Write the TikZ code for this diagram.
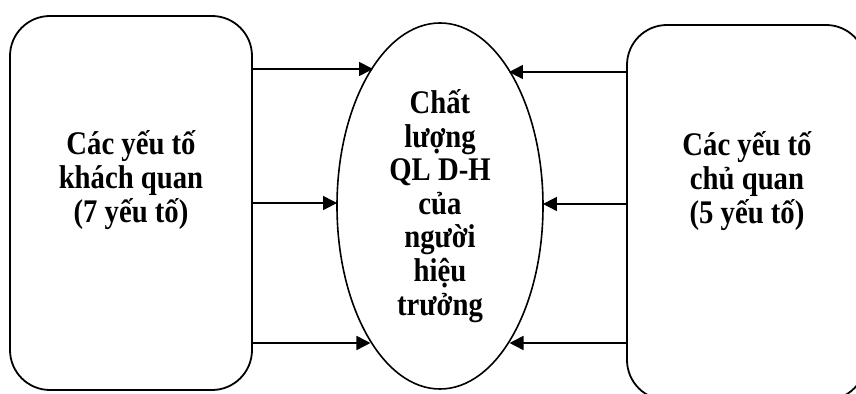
\documentclass[tikz,border=0pt]{standalone}
\usepackage{fontspec}
\setmainfont{Liberation Serif}
\newfontfamily\labelfont[FakeStretch=0.87]{Liberation Serif}
\usetikzlibrary{shapes.geometric,arrows.meta,intersections}
\begin{document}
\begin{tikzpicture}[x=0.5pt,y=-0.5pt,
  factorbox/.style={draw, line width=0.9pt, rounded corners=20pt, inner sep=0pt},
  core/.style={draw, ellipse, line width=0.8pt, minimum width=103pt, minimum height=183pt,
    inner sep=0pt, align=center, font=\labelfont\bfseries\fontsize{16.5}{16.8}\selectfont},
  caption/.style={align=center, font=\labelfont\bfseries\fontsize{16.5}{16.8}\selectfont},
  link/.style={line width=0.8pt, -{Triangle[length=7pt,width=7pt]}}]
\useasboundingbox (0,0) rectangle (856,394);

% the two groups of factors
\node[factorbox, minimum width=121pt, minimum height=187pt] (L) at (131,203) {};
\node[caption] (Lt) at (131,180) {Các yếu tố\\khách quan\\(7 yếu tố)};
\node[factorbox, minimum width=119.5pt, minimum height=187.5pt] (R) at (746.5,212.5) {};
\node[caption] (Rt) at (747,181) {Các yếu tố\\chủ quan\\(5 yếu tố)};

% the quality being influenced
\node[core] (E) at (440,206) {Chất\\lượng\\QL D-H\\của\\người\\hiệu\\trưởng};
\path[name path=ellp] (440,208) ellipse [x radius=51.5pt, y radius=91.5pt];

% horizontal guide lines for the influences
\path[name path=lha] (L.east |- 0,69)  -- (E.center |- 0,69);
\path[name path=lhb] (L.east |- 0,203) -- (E.center |- 0,203);
\path[name path=lhc] (L.east |- 0,343) -- (E.center |- 0,343);
\path[name path=rha] (R.west |- 0,72)  -- (E.center |- 0,72);
\path[name path=rhb] (R.west |- 0,204) -- (E.center |- 0,204);
\path[name path=rhc] (R.west |- 0,343) -- (E.center |- 0,343);
\path[name intersections={of=lha and ellp, by=la}];
\path[name intersections={of=lhb and ellp, by=lb}];
\path[name intersections={of=lhc and ellp, by=lc}];
\path[name intersections={of=rha and ellp, by=ra}];
\path[name intersections={of=rhb and ellp, by=rb}];
\path[name intersections={of=rhc and ellp, by=rc}];

% influences from the left
\draw[link] (L.east |- la) -- (la);
\draw[link] (L.east |- lb) -- (lb);
\draw[link] (L.east |- lc) -- (lc);
% influences from the right
\draw[link] (R.west |- ra) -- (ra);
\draw[link] (R.west |- rb) -- (rb);
\draw[link] (R.west |- rc) -- (rc);
\end{tikzpicture}
\end{document}
